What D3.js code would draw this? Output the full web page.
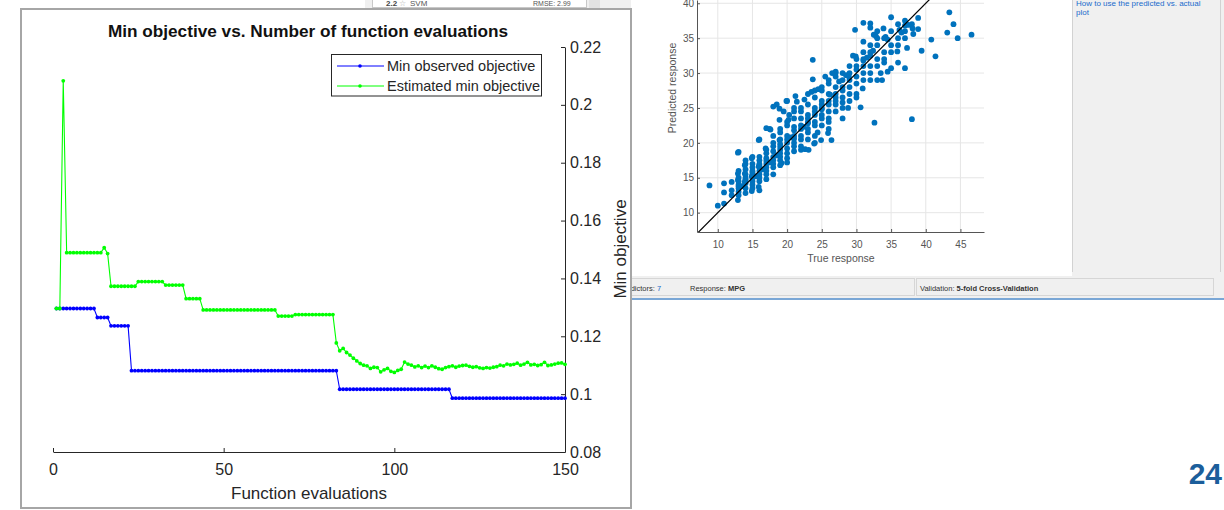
<!DOCTYPE html>
<html>
<head>
<meta charset="utf-8">
<script src="https://cdn.jsdelivr.net/npm/d3@7"></script>
<style>
body { margin: 0; background: #fff; }
svg { display: block; font-family: "Liberation Sans", Arial, Helvetica, sans-serif; }
</style>
</head>
<body>
<div id="my_dataviz"></div>
<script>
// ---- data: bayesopt trace (function evaluations 1..150) ----
const minObserved = [
  0.1296,0.1296,0.1296,0.1296,0.1296,0.1296,0.1296,0.1296,0.1296,0.1296,0.1296,0.1296,
  0.1265,0.1265,0.1265,0.1265,
  0.1236,0.1236,0.1236,0.1236,0.1236,0.1236,
  0.1081,0.1081,0.1081,0.1081,0.1081,0.1081,0.1081,0.1081,0.1081,0.1081,
  0.1081,0.1081,0.1081,0.1081,0.1081,0.1081,0.1081,0.1081,0.1081,0.1081,
  0.1081,0.1081,0.1081,0.1081,0.1081,0.1081,0.1081,0.1081,0.1081,0.1081,
  0.1081,0.1081,0.1081,0.1081,0.1081,0.1081,0.1081,0.1081,0.1081,0.1081,
  0.1081,0.1081,0.1081,0.1081,0.1081,0.1081,0.1081,0.1081,0.1081,0.1081,
  0.1081,0.1081,0.1081,0.1081,0.1081,0.1081,0.1081,0.1081,0.1081,0.1081,
  0.1081,
  0.1017,0.1017,0.1017,0.1017,0.1017,0.1017,0.1017,0.1017,0.1017,0.1017,
  0.1017,0.1017,0.1017,0.1017,0.1017,0.1017,0.1017,0.1017,0.1017,0.1017,
  0.1017,0.1017,0.1017,0.1017,0.1017,0.1017,0.1017,0.1017,0.1017,0.1017,
  0.1017,0.1017,0.1017,
  0.0986,0.0986,0.0986,0.0986,0.0986,0.0986,0.0986,0.0986,0.0986,0.0986,
  0.0986,0.0986,0.0986,0.0986,0.0986,0.0986,0.0986,0.0986,0.0986,0.0986,
  0.0986,0.0986,0.0986,0.0986,0.0986,0.0986,0.0986,0.0986,0.0986,0.0986,
  0.0986,0.0986,0.0986,0.0986
];

const estimatedMin = [
  0.1296,0.1296,0.2083,
  0.1489,0.1489,0.1489,0.1489,0.1489,0.1489,0.1489,0.1489,0.1489,0.1489,0.1489,
  0.1506,0.1486,
  0.1373,0.1373,0.1373,0.1373,0.1373,0.1373,0.1373,0.1373,
  0.1389,0.1389,0.1389,0.1389,0.1389,0.1389,0.1389,0.1389,
  0.1377,0.1377,0.1377,0.1377,0.1377,0.1377,
  0.1330,0.1330,0.1330,0.1330,0.1330,
  0.1291,0.1291,0.1291,0.1291,0.1291,0.1291,0.1291,0.1291,0.1291,0.1291,0.1291,
  0.1291,0.1291,0.1291,0.1291,0.1291,0.1291,0.1291,0.1291,0.1291,0.1291,0.1291,
  0.1270,0.1270,0.1270,0.1270,0.1270,
  0.1275,0.1275,0.1275,0.1275,0.1275,0.1275,0.1275,0.1275,0.1275,0.1275,0.1275,0.1275,
  0.1177,0.1150,0.1158,0.1144,0.1135,0.1124,0.1115,0.1106,0.1100,0.1098,
  0.1089,0.1093,0.1092,0.1077,0.1084,0.1089,0.1079,0.1075,0.1082,0.1086,
  0.1111,0.1104,0.1100,0.1094,0.1098,0.1092,0.1097,0.1092,0.1098,0.1093,
  0.1088,0.1086,0.1092,0.1095,0.1098,0.1093,0.1097,0.1099,0.1100,0.1096,
  0.1093,0.1095,0.1091,0.1089,0.1092,0.1090,0.1093,0.1095,0.1100,0.1098,
  0.1104,0.1101,0.1103,0.1107,0.1100,0.1104,0.1110,0.1101,0.1103,0.1099,
  0.1102,0.1110,0.1099,0.1101,0.1104,0.1107,0.1108,0.1103
];

const evals = d3.range(1, minObserved.length + 1);
const xTicks = [0, 50, 100, 150];
const yTicks = [0.08, 0.1, 0.12, 0.14, 0.16, 0.18, 0.2, 0.22];
const yTickLabels = ['0.08', '0.1', '0.12', '0.14', '0.16', '0.18', '0.2', '0.22'];
const seriesNames = ['Min observed objective', 'Estimated min objective'];
const seriesColors = ['#0000ff', '#00ff00'];

// ---- data: background screenshot, predicted vs true MPG ----
const respTicks = [10, 15, 20, 25, 30, 35, 40, 45];
const predTicks = [10, 15, 20, 25, 30, 35, 40];
const predictedVsTrue = [
  [8.8,13.9],[10,11.0],[10.9,11.3],[10.9,14.2],[10.9,12.9],[12,14.4],[12,13.2],[12,12.5],
  [12.9,18.6],[12.9,11.8],[12.9,15.6],[12.9,14.7],[13.9,16.8],[13.9,14.4],[13.9,15.6],
  [14.9,13.1],[14.9,15.2],[14.9,17.8],[15.9,20.4],[15.9,13.7],[15.9,16.6],[16.9,19.2],
  [17,22.1],[17.6,21.9],[18,25.2],[18.9,24.9],[18.9,23.3],[18.9,20.4],[19.2,17.1],[19.9,26],
  [20.3,24],[20.2,23.3],[21.2,26.7],[21.4,25.9],[22.4,22.3],[22.6,19.1],[23.1,19],[23.7,29.1],
  [23.7,31.9],[23.9,19.9],[24.4,21.5],[24.9,20.4],[25.9,21.4],[26.2,26.9],[26.4,20.4],[27,30.2],
  [28,23.5],[28.8,25],[28.9,29.5],[29.8,36.2],[29.9,32.4],[30.9,27.8],[30.6,25.1],[31,37.2],
  [32,37.1],[32.6,22.9],[32.8,35.3],[33,29],[33.7,29],[33.9,36.4],[34.2,35.2],[35,38],
  [35,30.7],[35.9,33.1],[37,30.7],[37,37.5],[37.3,33.6],[38,23.4],[38.1,36.4],[38.9,37.9],
  [38.9,36.3],[39.4,33.2],[40.8,34.8],[41.4,32.4],[43.1,35.8],[43.4,38.7],[44,37],[44.6,35],
  [46.6,35.5],
  [13,13.5],[13,14],[13,12.5],[13,15],[13,16],[13,14.5],[13,13],[13.5,13.8],[14,14.2],[14,13.5],
  [14,15],[14,16.2],[14,17],[14,15.5],[14,14.8],[14,12.8],[15,15.5],[15,16],[15,14.5],[15,17],
  [15,15],[15,16.5],[15,14],[15,13.5],[15,18],[15.5,15.2],[16,16],[16,15.5],[16,17.5],[16,16.8],
  [16,14.5],[16,18],[16,15],[16,17],[16.5,16.2],[17,17],[17,16],[17,18.5],[17,15.5],[17,17.8],
  [17,19],[17,16.5],[17.5,17.2],[18,18],[18,17],[18,19.5],[18,16.5],[18,18.8],[18,20],[18,17.5],
  [18,21],[18.5,18.2],[19,19],[19,18],[19,20.5],[19,17.5],[19,19.8],[19,21.5],[19,18.5],[19,22],
  [20,20],[20,19.2],[20,21],[20,18.5],[20,22.5],[20,20.5],[20,17.8],[20,23],[20.5,20.8],[21,21],
  [21,20],[21,22.3],[21,19.5],[21,23.5],[21,21.8],[21,24.5],[22,22],[22,21],[22,23.5],[22,20.5],
  [22,24.5],[22,22.5],[22,19.5],[22,25],[23,23],[23,22],[23,24],[23,21.5],[23,25.5],[23,23.5],
  [23,20.5],[23,27],[24,24],[24,23],[24,25],[24,22.5],[24,26.5],[24,24.5],[24,27.5],[24,21],
  [25,25],[25,24],[25,26],[25,23.5],[25,27.5],[25,25.5],[25,28],[25,22.5],[26,25.5],[26,24.5],
  [26,27],[26,23],[26,28.5],[26,26],[26,29],[26,22],[27,26.5],[27,25.5],[27,28],[27,24.5],
  [27,29.5],[27,27],[27,30],[28,27.5],[28,26.5],[28,29],[28,25],[28,30],[28,28],[29,28],
  [29,30],[29,27],[29,31],[29,29],[29,26],[30,29.5],[30,31],[30,28.5],[30,32],[30,30.5],
  [30,27],[31,30],[31,32],[31,29],[31,33],[31,31],[32,31],[32,33],[32,30],[32,34],
  [32,32.5],[33,32],[33,34],[33,31],[33,35],[34,33],[34,35],[34,32],[34,31.5],[35,34],
  [35,36],[35,33],[36,35],[36,34],[36,37],[37,36],[37,35],[38,37],[37,36.8],[36,31.5],
  [34.5,30.2],[33.5,30],[32,29],[31,31.8],[32.5,35.5],[33,36],[32,36.5],[31,34.5],[29.5,32.5],
  [28.5,29.7],[27.5,28.8],[26.5,30],[25.5,29.5],[24.5,27.7],[23.5,27.3],[22.5,26.2],[21,25],
  [20,26],[19.5,24.5],[18.5,25.5],[17.5,22],[16,20.5],[14,17.5],[13,18.7],[31.5,32.2],
  [32.4,33.2],[34.5,34.8],[36.5,35.8],[36.2,36.2],[37.5,36.9],[38.2,35.6],[16,13.2],[17,14.8],
  [18,15.5],[19,16.8],[20,17.2],[21,18.8],[22,19],[24,20],[26,23.5],[28,25.8],[30,26.5],
  [27,26],[25,24.8],[23,22.8],[21,20.6],[19,19.4],[17,17.4],[15,15.8],[14,14.6],[13,13.8]
];

const width = 1224;
const height = 510;
const axisColor = '#262626';

const xScale = d3.scaleLinear().domain([0, 150]).range([53, 565]);
const yScale = d3.scaleLinear().domain([0.08, 0.22]).range([452, 47]);

const sx = d3.scaleLinear().domain([7, 48.4]).range([697, 984]);
const sy = d3.scaleLinear().domain([7.23, 40.47]).range([232, 0]);

const svg = d3.select('#my_dataviz')
  .append('svg')
    .attr('width', width)
    .attr('height', height);

// ================= background app screenshot =================
const shot = svg.append('g');

shot.append('rect').attr('x', 365).attr('y', 0).attr('width', 859).attr('height', 300).attr('fill', '#f0f0f0');

// model list item peeking at the top
shot.append('rect').attr('x', 372.5).attr('y', -3).attr('width', 214).attr('height', 10.5)
  .attr('fill', '#fff').attr('stroke', '#c8c8c8');
shot.append('rect').attr('x', 589).attr('y', 0).attr('width', 11).attr('height', 10).attr('fill', '#e2e2e2');
shot.append('text').attr('x', 386).attr('y', 6).style('font-size', '8px').style('font-weight', 'bold')
  .attr('fill', '#444').text('2.2');
shot.append('text').attr('x', 399).attr('y', 6).style('font-size', '8px').attr('fill', '#aaa').text('☆');
shot.append('text').attr('x', 410).attr('y', 6).style('font-size', '8px').attr('fill', '#555').text('SVM');
shot.append('text').attr('x', 533).attr('y', 6).style('font-size', '7px').attr('fill', '#555').text('RMSE: 2.99');

// white plot panel + right help panel
shot.append('rect').attr('x', 631).attr('y', 0).attr('width', 441).attr('height', 276).attr('fill', '#fff');
shot.append('line').attr('x1', 1072.5).attr('x2', 1072.5).attr('y1', 0).attr('y2', 272).attr('stroke', '#d2d2d2');
shot.append('line').attr('x1', 1220.5).attr('x2', 1220.5).attr('y1', 0).attr('y2', 272).attr('stroke', '#d2d2d2');
shot.append('text').attr('x', 1076).attr('y', 6).style('font-size', '8px').attr('fill', '#1a6bcc')
  .text('How to use the predicted vs. actual');
shot.append('text').attr('x', 1076).attr('y', 15).style('font-size', '8px').attr('fill', '#1a6bcc').text('plot');

// status bar
shot.append('rect').attr('x', 600.5).attr('y', 278.5).attr('width', 314).attr('height', 17)
  .attr('fill', '#f0f0f0').attr('stroke', '#d6d6d6');
shot.append('rect').attr('x', 916.5).attr('y', 278.5).attr('width', 297).attr('height', 17)
  .attr('fill', '#f0f0f0').attr('stroke', '#d6d6d6');
const st1 = shot.append('text').attr('x', 619).attr('y', 291).style('font-size', '7.5px').attr('fill', '#333');
st1.append('tspan').text('Predictors: ');
st1.append('tspan').attr('fill', '#1a6bcc').text('7');
const st2 = shot.append('text').attr('x', 690).attr('y', 291).style('font-size', '7.5px').attr('fill', '#333');
st2.append('tspan').text('Response: ');
st2.append('tspan').style('font-weight', 'bold').text('MPG');
const st3 = shot.append('text').attr('x', 920).attr('y', 291).style('font-size', '7.5px').attr('fill', '#333');
st3.append('tspan').text('Validation: ');
st3.append('tspan').style('font-weight', 'bold').text('5-fold Cross-Validation');
shot.append('rect').attr('x', 365).attr('y', 298).attr('width', 859).attr('height', 2).attr('fill', '#7aa7d6');

// scatter axes
svg.append('clipPath').attr('id', 'scClip')
  .append('rect').attr('x', 697).attr('y', -40).attr('width', 287).attr('height', 272);

const sc = shot.append('g');
sc.append('g').selectAll('line.vg').data(respTicks).join('line')
  .attr('x1', d => sx(d)).attr('x2', d => sx(d)).attr('y1', 0).attr('y2', 232)
  .attr('stroke', '#e6e6e6');
sc.append('g').selectAll('line.hg').data(predTicks).join('line')
  .attr('x1', 697).attr('x2', 984).attr('y1', d => sy(d)).attr('y2', d => sy(d))
  .attr('stroke', '#e6e6e6');

sc.append('g').attr('clip-path', 'url(#scClip)')
  .selectAll('circle').data(predictedVsTrue).join('circle')
    .attr('cx', d => sx(d[0]))
    .attr('cy', d => sy(d[1]))
    .attr('r', 2.9)
    .attr('fill', '#0072bd');

sc.append('line').attr('clip-path', 'url(#scClip)')
  .attr('x1', sx(7)).attr('y1', sy(7)).attr('x2', sx(48)).attr('y2', sy(48))
  .attr('stroke', '#000').attr('stroke-width', 1.2);

const scX = sc.append('g').attr('transform', 'translate(0,232)')
  .call(d3.axisBottom(sx).tickValues(respTicks).tickSizeInner(-3).tickSizeOuter(0));
scX.select('.domain').attr('stroke', '#555');
scX.selectAll('.tick line').attr('stroke', '#555');
scX.selectAll('.tick text').attr('y', 16).attr('dy', 0).attr('fill', '#555').style('font-size', '10px')
  .style('font-family', '"Liberation Sans", Arial, sans-serif');
sc.append('text').attr('x', 841).attr('y', 262).attr('text-anchor', 'middle').style('font-size', '10.5px')
  .attr('fill', '#555').text('True response');

const scY = sc.append('g').attr('transform', 'translate(697,0)')
  .call(d3.axisLeft(sy).tickValues(predTicks).tickSizeInner(-3).tickSizeOuter(0));
scY.select('.domain').attr('stroke', '#555');
scY.selectAll('.tick line').attr('stroke', '#555');
scY.selectAll('.tick text').attr('x', -3).attr('fill', '#555').style('font-size', '10px')
  .style('font-family', '"Liberation Sans", Arial, sans-serif');
sc.append('text').attr('transform', 'translate(676,88) rotate(-90)').attr('text-anchor', 'middle')
  .style('font-size', '10.5px').attr('fill', '#555').text('Predicted response');

// ================= MATLAB figure =================
const fig = svg.append('g');
fig.append('rect').attr('x', 21).attr('y', 9).attr('width', 610).attr('height', 499)
  .attr('fill', '#fff').attr('stroke', '#a6a6a6').attr('stroke-width', 2);

const xAxis = fig.append('g').attr('transform', 'translate(0,452)')
  .call(d3.axisBottom(xScale).tickValues(xTicks).tickSizeInner(-4).tickSizeOuter(0))
  .call(g => g.select('.domain').attr('stroke', axisColor))
  .call(g => g.selectAll('.tick line').attr('stroke', axisColor))
  .call(g => g.selectAll('.tick text')
    .attr('y', 23).attr('dy', 0).attr('fill', axisColor)
    .style('font-size', '16px').style('font-family', '"Liberation Sans", Arial, sans-serif'));

const yAxis = fig.append('g').attr('transform', 'translate(565,0)')
  .call(d3.axisRight(yScale).tickValues(yTicks).tickFormat((d, i) => yTickLabels[i])
    .tickSizeInner(-4).tickSizeOuter(0))
  .call(g => g.select('.domain').attr('stroke', axisColor))
  .call(g => g.selectAll('.tick line').attr('stroke', axisColor))
  .call(g => g.selectAll('.tick text')
    .attr('x', 5).attr('fill', axisColor)
    .style('font-size', '16px').style('font-family', '"Liberation Sans", Arial, sans-serif'));

fig.append('text').attr('x', 309).attr('y', 499).attr('text-anchor', 'middle')
  .style('font-size', '17px').attr('fill', axisColor).text('Function evaluations');
fig.append('text').attr('transform', 'translate(626,249) rotate(-90)').attr('text-anchor', 'middle')
  .style('font-size', '17px').attr('fill', axisColor).text('Min objective');
fig.append('text').attr('x', 308).attr('y', 37).attr('text-anchor', 'middle')
  .style('font-size', '17.2px').style('font-weight', 'bold').attr('fill', '#111')
  .text('Min objective vs. Number of function evaluations');

const series = [minObserved, estimatedMin];
series.forEach((vals, k) => {
  const line = d3.line()
    .x((d, i) => xScale(evals[i]))
    .y(d => yScale(d));
  fig.append('path')
    .datum(vals)
    .attr('fill', 'none')
    .attr('stroke', seriesColors[k])
    .attr('stroke-width', 1.1)
    .attr('d', line);
  fig.append('g').selectAll('circle').data(vals).join('circle')
    .attr('cx', (d, i) => xScale(evals[i]))
    .attr('cy', d => yScale(d))
    .attr('r', 1.9)
    .attr('fill', seriesColors[k]);
});

// legend
const legend = fig.append('g');
legend.append('rect').attr('x', 331.5).attr('y', 54.5).attr('width', 210).attr('height', 41.5)
  .attr('fill', '#fff').attr('stroke', axisColor);
seriesNames.forEach((name, k) => {
  const ly = 66 + k * 20;
  legend.append('line').attr('x1', 337).attr('x2', 384).attr('y1', ly).attr('y2', ly)
    .attr('stroke', seriesColors[k]);
  legend.append('circle').attr('cx', 360).attr('cy', ly).attr('r', 1.8).attr('fill', seriesColors[k]);
  legend.append('text').attr('x', 387).attr('y', ly).attr('dy', '0.35em')
    .style('font-size', '14.5px').attr('fill', axisColor).text(name);
});

// slide number
svg.append('text').attr('x', 1222).attr('y', 484).attr('text-anchor', 'end')
  .style('font-size', '30px').style('font-weight', 'bold').attr('fill', '#1b5e9b').text('24');
</script>
</body>
</html>
